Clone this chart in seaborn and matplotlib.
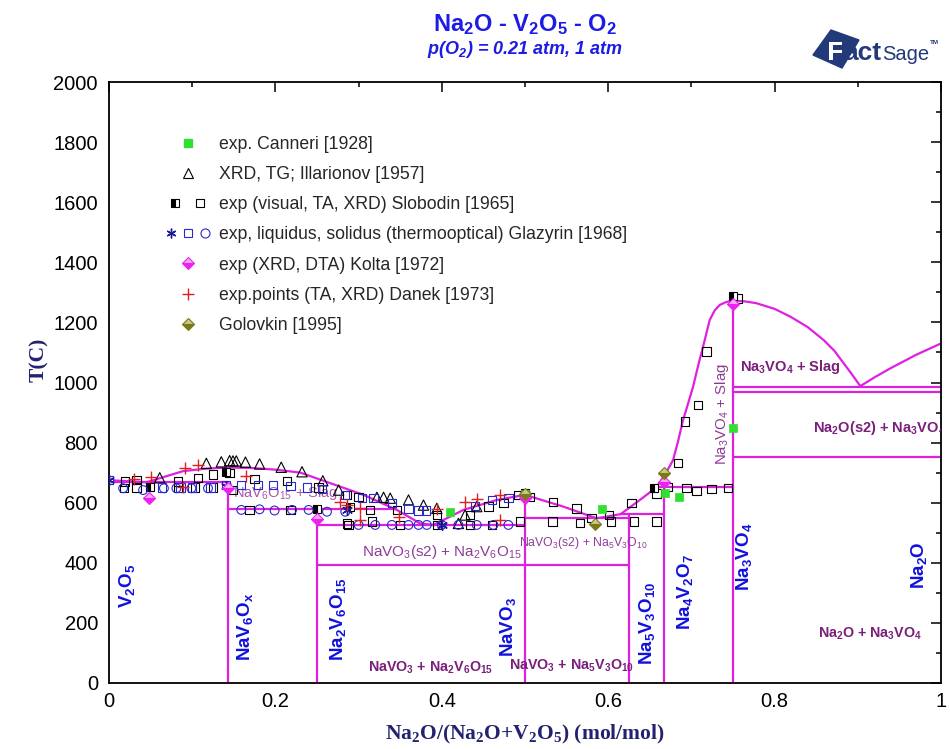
import numpy as np
import pandas as pd
import matplotlib
matplotlib.use("Agg")
import matplotlib.pyplot as plt
import seaborn as sns
from matplotlib.lines import Line2D
from matplotlib.legend_handler import HandlerTuple
from matplotlib.patches import Polygon
from matplotlib.ticker import MultipleLocator
import matplotlib.patheffects as pe

# ---------------- texts ----------------
title = "Na$_2$O - V$_2$O$_5$ - O$_2$"
subtitle = "p(O$_2$) = 0.21 atm, 1 atm"
x_label = "Na$_2$O/(Na$_2$O+V$_2$O$_5$) (mol/mol)"
y_label = "T(C)"
x_ticks = [0, 0.2, 0.4, 0.6, 0.8, 1.0]
x_tick_labels = ["0", "0.2", "0.4", "0.6", "0.8", "1"]
y_ticks = [0, 200, 400, 600, 800, 1000, 1200, 1400, 1600, 1800, 2000]

# ---------------- calculated phase boundaries ----------------
liq_x = [0.0, 0.045, 0.089, 0.115, 0.141, 0.169, 0.200, 0.230, 0.266, 0.306, 0.346, 0.374, 0.390,
         0.426, 0.466, 0.500, 0.546, 0.586, 0.615, 0.638, 0.658, 0.665, 0.672, 0.678, 0.684,
         0.690, 0.696, 0.702, 0.708, 0.714, 0.722, 0.728, 0.734, 0.742, 0.750, 0.764, 0.778,
         0.800, 0.819, 0.840, 0.859, 0.872, 0.883, 0.893, 0.903, 0.920, 0.939, 0.970, 1.000]
liq_T = [675, 668, 705, 713, 717, 716, 710, 700, 665, 626, 576, 531, 526,
         576, 609, 626, 587, 548, 562, 609, 651, 680, 712, 742, 805,
         875, 930, 986, 1055, 1119, 1208, 1240, 1258, 1268, 1272, 1270, 1264,
         1245, 1219, 1184, 1141, 1105, 1064, 1027, 988, 1017, 1047, 1092, 1130]

# invariant (horizontal) lines
iso_x0 = [0.0, 0.143, 0.25, 0.25, 0.5, 0.615, 0.658, 0.75, 0.75, 0.75]
iso_x1 = [0.143, 0.345, 0.5, 0.625, 0.625, 0.667, 0.75, 1.0, 1.0, 1.0]
iso_T = [668, 578, 526, 393, 548, 562, 651, 984, 970, 751]

# compound (vertical) lines
comp_x = [1 / 7, 0.25, 0.5, 0.625, 2 / 3, 0.75]
comp_Ttop = [668, 578, 626, 562, 651, 1272]

# ---------------- experimental points ----------------
canneri_x = [0.410, 0.500, 0.593, 0.668, 0.685, 0.750]
canneri_T = [568, 630, 578, 631, 620, 847]

illarionov_x = [0.061, 0.117, 0.135, 0.145, 0.149, 0.153, 0.164, 0.181, 0.207, 0.232, 0.257,
                0.276, 0.322, 0.330, 0.338, 0.360, 0.378, 0.394, 0.420, 0.428, 0.442]
illarionov_T = [683, 731, 736, 740, 739, 739, 735, 729, 718, 703, 673,
                642, 618, 618, 615, 609, 592, 581, 531, 559, 587]

slobodin_x = [0.018, 0.019, 0.033, 0.033, 0.083, 0.083, 0.103, 0.107, 0.125, 0.125,
              0.145, 0.149, 0.169, 0.175, 0.214, 0.218, 0.252, 0.286, 0.286, 0.288,
              0.300, 0.314, 0.316, 0.346, 0.350, 0.394, 0.394, 0.434, 0.434, 0.456,
              0.460, 0.474, 0.492, 0.494, 0.506, 0.533, 0.534, 0.562, 0.566, 0.580,
              0.601, 0.603, 0.628, 0.631, 0.658, 0.658, 0.672,
              0.684, 0.692, 0.694, 0.706, 0.708, 0.718, 0.724, 0.744, 0.756]
slobodin_T = [648, 670, 676, 651, 670, 651, 651, 683, 694, 651,
              698, 642, 576, 679, 672, 576, 651, 531, 626, 526,
              620, 576, 537, 576, 526, 559, 526, 559, 526, 587,
              526, 598, 626, 537, 620, 537, 603, 581, 533, 548,
              559, 537, 600, 537, 631, 537, 653,
              733, 870, 648, 640, 925, 1103, 646, 648, 1280]
slobodin_half_x = [0.0, 0.049, 0.141, 0.25, 0.29, 0.5, 0.655, 0.75]
slobodin_half_T = [676, 651, 703, 578, 587, 631, 650, 1288]

glazyrin_liq_x = [0.0, 0.064, 0.086, 0.100, 0.122, 0.141, 0.159, 0.179, 0.197, 0.218, 0.238,
                  0.256, 0.284, 0.304, 0.318, 0.340, 0.360, 0.372, 0.381, 0.440, 0.460, 0.480]
glazyrin_liq_T = [676, 651, 651, 651, 651, 659, 659, 659, 659, 655, 651,
                  645, 626, 615, 615, 598, 581, 574, 574, 589, 609, 615]
glazyrin_sol_x = [0.017, 0.041, 0.066, 0.081, 0.099, 0.119, 0.159, 0.181, 0.199, 0.220, 0.240,
                  0.262, 0.284, 0.300, 0.320, 0.340, 0.360, 0.372, 0.382, 0.400, 0.420, 0.442,
                  0.462, 0.480]
glazyrin_sol_T = [648, 642, 648, 648, 648, 648, 576, 578, 574, 576, 576,
                  570, 570, 526, 526, 526, 526, 526, 526, 526, 526, 526,
                  526, 526]
glazyrin_star_x = [0.0, 0.141, 0.286, 0.400, 0.500]
glazyrin_star_T = [676, 655, 576, 526, 628]

kolta_x = [0.048, 0.143, 0.250, 0.500, 0.667, 0.750]
kolta_T = [615, 648, 545, 615, 668, 1262]

danek_x = [0.030, 0.050, 0.089, 0.091, 0.107, 0.165, 0.278, 0.286, 0.302, 0.302,
           0.348, 0.394, 0.428, 0.442, 0.470, 0.470]
danek_T = [680, 686, 651, 714, 725, 689, 603, 592, 581, 542,
           553, 578, 603, 611, 626, 542]

golovkin_x = [0.500, 0.584, 0.667]
golovkin_T = [628, 530, 698]

legend_labels = ["exp. Canneri [1928]",
                 "XRD, TG; Illarionov [1957]",
                 "exp (visual, TA, XRD) Slobodin [1965]",
                 "exp, liquidus, solidus (thermooptical) Glazyrin [1968]",
                 "exp (XRD, DTA) Kolta [1972]",
                 "exp.points (TA, XRD) Danek [1973]",
                 "Golovkin [1995]"]

# compound names (x, T) and region labels
compound_labels = ["V$_2$O$_5$", "NaV$_6$O$_x$", "Na$_2$V$_6$O$_{15}$", "NaVO$_3$",
                   "Na$_5$V$_3$O$_{10}$", "Na$_4$V$_2$O$_7$", "Na$_3$VO$_4$", "Na$_2$O"]
compound_lx = [0.022, 0.163, 0.275, 0.479, 0.647, 0.692, 0.763, 0.974]
compound_lT = [323, 186, 213, 186, 200, 303, 419, 393]

# ---------------- styling ----------------
sns.set_theme(style="white")
plt.rcParams['font.family'] = ['Liberation Sans', 'DejaVu Sans']
plt.rcParams['mathtext.default'] = 'regular'

MAG = '#e020e0'
GREEN = '#2fe02f'
BLUE_M = '#2a2acc'
RED = '#e02020'
KOLTA = '#ee22ee'
OLIVE = '#7a7a18'
TITLE_BLUE = '#1c1ce6'
LBL_BLUE = '#1111dd'
PURP_B = '#7a1f7a'
PURP_N = '#8e3c96'
NAVY = '#22226e'

fig = plt.figure(figsize=(9.5, 7.49), dpi=100)
fig.patch.set_facecolor('white')
ax = fig.add_axes([109 / 950, 1 - 683 / 749, 832 / 950, 601 / 749])

# ---- phase boundary lines via seaborn (long form with units) ----
rows = []
seg = 0
for x, T in zip(liq_x, liq_T):
    rows.append((seg, x, T))
for x0, x1, T in zip(iso_x0, iso_x1, iso_T):
    seg += 1
    rows.append((seg, x0, T))
    rows.append((seg, x1, T))
for x, Tt in zip(comp_x, comp_Ttop):
    seg += 1
    rows.append((seg, x, 0))
    rows.append((seg, x, Tt))
lines_df = pd.DataFrame(rows, columns=["seg", "x", "T"])
sns.lineplot(data=lines_df, x="x", y="T", units="seg", estimator=None, sort=False,
             color=MAG, linewidth=1.6, ax=ax, legend=False, zorder=2)

# ---- experimental points ----
sns.scatterplot(x=illarionov_x, y=illarionov_T, marker='^', s=55, facecolors='none',
                edgecolor='black', linewidth=0.8, ax=ax, zorder=4)
sns.scatterplot(x=slobodin_x, y=slobodin_T, marker='s', s=36, facecolors='none',
                edgecolor='black', linewidth=0.8, ax=ax, zorder=4)
ax.plot(slobodin_half_x, slobodin_half_T, ls='', marker='s', ms=6, mfc='black',
        mfcalt='white', fillstyle='left', mec='black', mew=0.8, zorder=4)
sns.scatterplot(x=glazyrin_liq_x, y=glazyrin_liq_T, marker='s', s=36, facecolors='none',
                edgecolor=BLUE_M, linewidth=0.8, ax=ax, zorder=4)
sns.scatterplot(x=glazyrin_sol_x, y=glazyrin_sol_T, marker='o', s=40, facecolors='none',
                edgecolor=BLUE_M, linewidth=0.8, ax=ax, zorder=4)
sns.scatterplot(x=glazyrin_star_x, y=glazyrin_star_T, marker=(6, 2, 0), s=50,
                color='#1a1a9a', linewidth=1.0, ax=ax, zorder=5)
sns.scatterplot(x=danek_x, y=danek_T, marker='+', s=70, color=RED, linewidth=1.0,
                ax=ax, zorder=5)
sns.scatterplot(x=canneri_x, y=canneri_T, marker='s', s=36, color=GREEN,
                edgecolor=GREEN, linewidth=0.5, ax=ax, zorder=5)
ax.plot(kolta_x, kolta_T, ls='', marker='D', ms=6, mfc=KOLTA, mfcalt='#f8a8f8',
        fillstyle='bottom', mec=KOLTA, mew=0.8, zorder=5)
ax.plot(golovkin_x, golovkin_T, ls='', marker='D', ms=6, mfc=OLIVE, mfcalt='#c8c888',
        fillstyle='bottom', mec=OLIVE, mew=0.8, zorder=5)

# ---- axes ----
ax.set_xlim(0, 1)
ax.set_ylim(0, 2000)
ax.set_xticks(x_ticks)
ax.set_xticklabels(x_tick_labels)
ax.set_yticks(y_ticks)
ax.xaxis.set_minor_locator(MultipleLocator(0.1))
ax.yaxis.set_minor_locator(MultipleLocator(100))
ax.tick_params(which='both', direction='in', top=True, right=True, colors='black',
               labelsize=14.5, width=1.1)
ax.tick_params(which='major', length=7)
ax.tick_params(which='minor', length=3.5)
ax.tick_params(axis='y', pad=8)
ax.tick_params(axis='x', pad=6.5)
for sp in ax.spines.values():
    sp.set_visible(True)
    sp.set_color('black')
    sp.set_linewidth(1.3)
ax.grid(False)

ax.set_xlabel(x_label, fontsize=15.5, fontweight='bold', color=NAVY,
              fontfamily=['Liberation Serif', 'DejaVu Serif'])
ax.xaxis.set_label_coords(0.5, -0.066)
ax.set_ylabel(y_label, fontsize=15.5, fontweight='bold', color=NAVY,
              fontfamily=['Liberation Serif', 'DejaVu Serif'])
ax.yaxis.set_label_coords(-0.072, 0.537)

# ---- labels in the diagram ----
for lab, lx, lT in zip(compound_labels, compound_lx, compound_lT):
    ax.text(lx, lT, lab, rotation=90, ha='center', va='center', color=LBL_BLUE,
            fontsize=13.5, fontweight='bold', zorder=6)

ax.text(0.212, 632, "NaV$_6$O$_{15}$ + Slag", ha='center', va='center', color='#a45aa8',
        fontsize=10.5, zorder=3)
ax.text(0.400, 437, "NaVO$_3$(s2) + Na$_2$V$_6$O$_{15}$", ha='center', va='center',
        color=PURP_N, fontsize=11)
ax.text(0.570, 465, "NaVO$_3$(s2) + Na$_5$V$_3$O$_{10}$", ha='center', va='center',
        color=PURP_N, fontsize=8.8)
ax.text(0.386, 52, "NaVO$_3$ + Na$_2$V$_6$O$_{15}$", ha='center', va='center',
        color=PURP_B, fontsize=10.3, fontweight='bold')
ax.text(0.556, 56, "NaVO$_3$ + Na$_5$V$_3$O$_{10}$", ha='center', va='center',
        color=PURP_B, fontsize=10.3, fontweight='bold')
ax.text(0.8185, 1050, "Na$_3$VO$_4$ + Slag", ha='center', va='center',
        color=PURP_B, fontsize=10.5, fontweight='bold')
ax.text(0.737, 895, "Na$_3$VO$_4$ + Slag", ha='center', va='center', rotation=90,
        color=PURP_N, fontsize=10.8)
ax.text(0.846, 848, "Na$_2$O(s2) + Na$_3$VO$_4$", ha='left', va='center',
        color=PURP_B, fontsize=10.5, fontweight='bold', clip_on=True)
ax.text(0.915, 163, "Na$_2$O + Na$_3$VO$_4$", ha='center', va='center',
        color=PURP_B, fontsize=10.3, fontweight='bold')

# ---- legend ----
h_can = Line2D([], [], ls='', marker='s', ms=5.5, mfc=GREEN, mec=GREEN)
h_ill = Line2D([], [], ls='', marker='^', ms=6.5, mfc='none', mec='black', mew=0.8)
h_slo = (Line2D([], [], ls='', marker='s', ms=6, mfc='black', mfcalt='white',
                fillstyle='left', mec='black', mew=0.8),
         Line2D([], [], ls='', marker='s', ms=6, mfc='none', mec='black', mew=0.8))
h_gla = (Line2D([], [], ls='', marker=(6, 2, 0), ms=7, mec='#1a1a9a', mew=1.0),
         Line2D([], [], ls='', marker='s', ms=6, mfc='none', mec=BLUE_M, mew=0.8),
         Line2D([], [], ls='', marker='o', ms=6.5, mfc='none', mec=BLUE_M, mew=0.8))
h_kol = Line2D([], [], ls='', marker='D', ms=6, mfc=KOLTA, mfcalt='#f8a8f8',
               fillstyle='bottom', mec=KOLTA, mew=0.8)
h_dan = Line2D([], [], ls='', marker='+', ms=8, mec=RED, mew=1.0)
h_gol = Line2D([], [], ls='', marker='D', ms=6, mfc=OLIVE, mfcalt='#c8c888',
               fillstyle='bottom', mec=OLIVE, mew=0.8)
ax.legend([h_can, h_ill, h_slo, h_gla, h_kol, h_dan, h_gol], legend_labels,
          handler_map={tuple: HandlerTuple(ndivide=None, pad=0.25)},
          loc='upper left', bbox_to_anchor=(165 / 950, 1 - 136 / 749),
          bbox_transform=fig.transFigure, frameon=False, fontsize=12.7,
          handlelength=2.6, handletextpad=0.45, labelspacing=0.745,
          borderpad=0, borderaxespad=0)

# ---- titles ----
fig.text(525 / 950, 1 - 25 / 749, title, ha='center', va='center', color=TITLE_BLUE,
         fontsize=17, fontweight='bold')
fig.text(525 / 950, 1 - 50 / 749, subtitle, ha='center', va='center', color=TITLE_BLUE,
         fontsize=13, fontweight='bold', style='italic')

# ---- FactSage logo ----
LOGO = '#22397a'
corners_px = [(831, 30), (859, 40), (842, 68), (813, 55)]
poly = Polygon([(px / 950, 1 - py / 749) for px, py in corners_px], closed=True,
               transform=fig.transFigure, facecolor=LOGO, edgecolor=LOGO)
fig.patches.append(poly)
renderer = fig.canvas.get_renderer()
t_f = fig.text(827 / 950, 1 - 60 / 749, "F", color='white', fontsize=19,
               fontweight='bold', ha='left', va='baseline',
               path_effects=[pe.withStroke(linewidth=2.0, foreground=LOGO)])
bb = t_f.get_window_extent(renderer=renderer)
t_act = fig.text(bb.x1 / 950, 1 - 60 / 749, "act", color=LOGO, fontsize=19,
                 fontweight='bold', ha='left', va='baseline')
bb = t_act.get_window_extent(renderer=renderer)
t_sage = fig.text((bb.x1 + 1) / 950, 1 - 60 / 749, "Sage", color=LOGO, fontsize=14.5,
                  ha='left', va='baseline')
bb = t_sage.get_window_extent(renderer=renderer)
fig.text((bb.x1 + 1) / 950, 1 - 44 / 749, "TM", color=LOGO, fontsize=4.5,
         fontweight='bold', ha='left', va='baseline')

fig.savefig('out.png', dpi=100)
